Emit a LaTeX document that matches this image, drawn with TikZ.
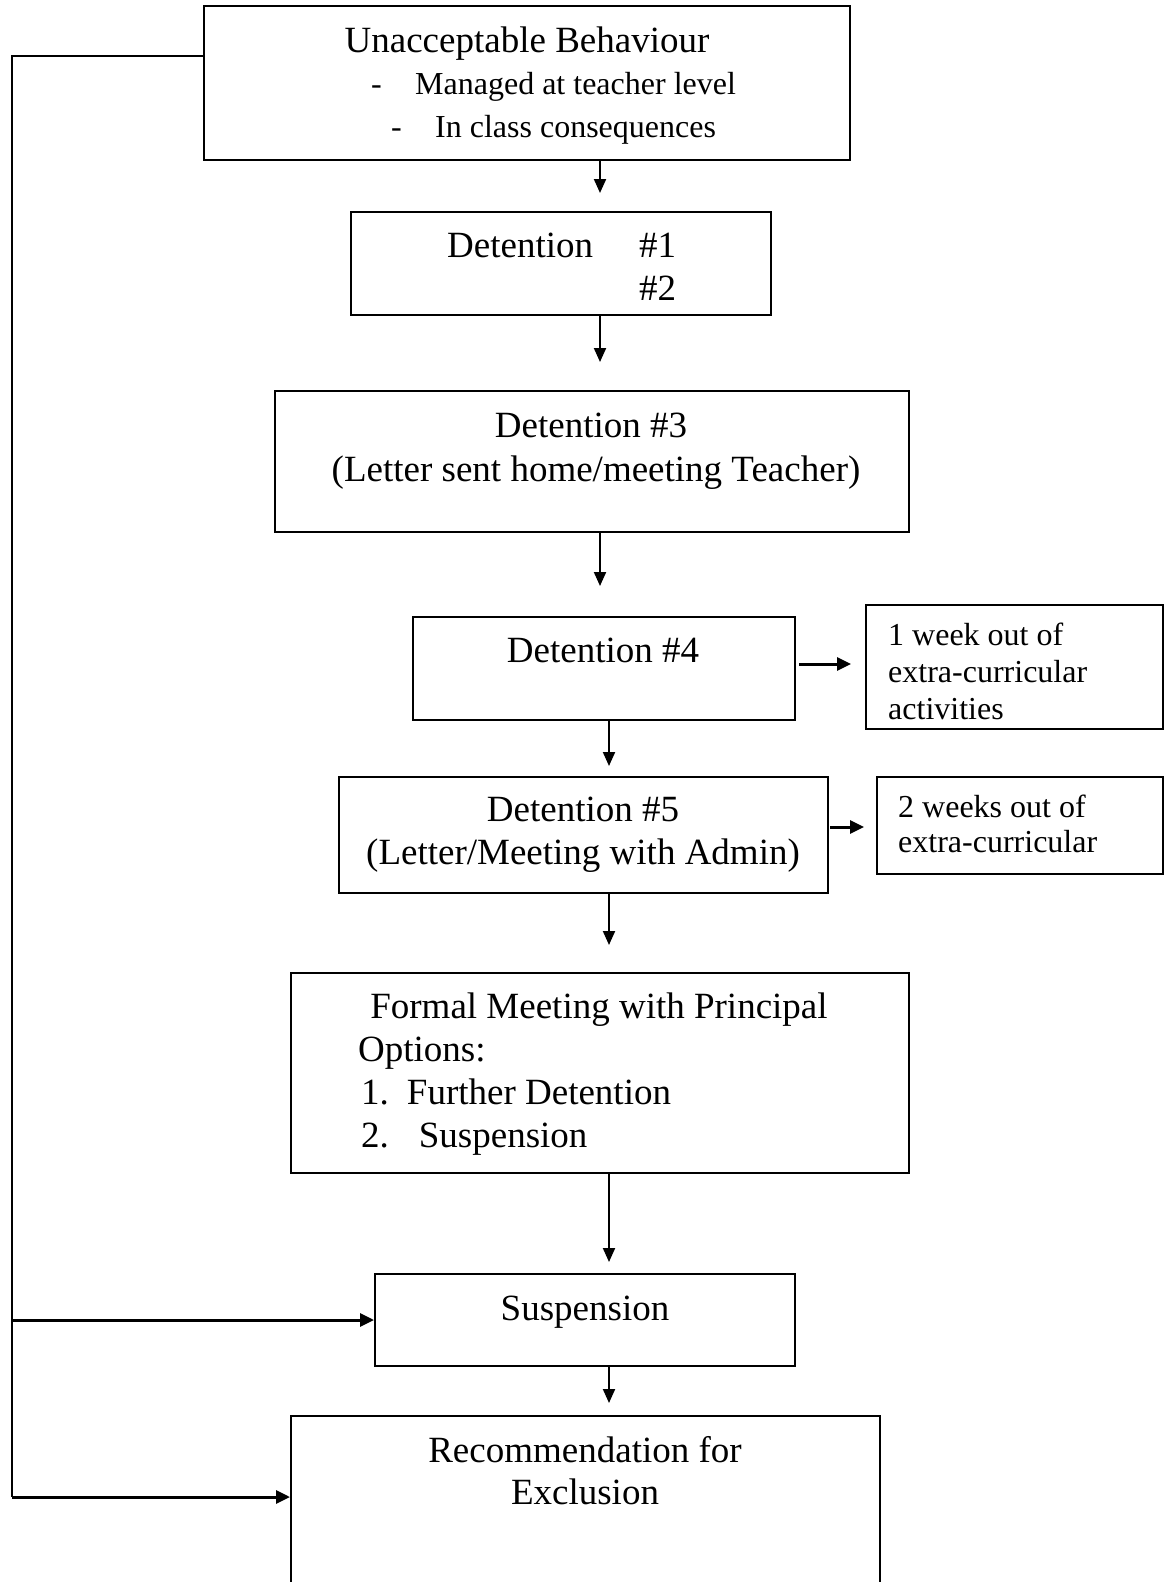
\documentclass[tikz,border=0pt]{standalone}
\usepackage{fontspec}
\setmainfont{Liberation Serif}
\usetikzlibrary{arrows.meta}
\newcommand{\bigtxt}{\fontsize{37}{43}\selectfont}
\newcommand{\smalltxt}{\fontsize{32}{37}\selectfont}
\tikzset{
  box/.style={draw, line width=2pt, inner sep=0pt},
  txt/.style={inner sep=0pt, font=\bigtxt},
  smtxt/.style={inner sep=0pt, font=\smalltxt},
  arr/.style={line width=2pt, -{Triangle[length=14pt,width=12pt]}},
  harr/.style={line width=3pt, -{Triangle[length=14pt,width=13pt]}},
}
\begin{document}
\begin{tikzpicture}[x=1pt,y=-1pt]
  \useasboundingbox (0,0) rectangle (1172,1582);
  \clip (0,0) rectangle (1172,1582);
  % boxes
  \node[box, minimum width=646pt, minimum height=154pt] (unacc) at (527,83) {};
  \node[box, minimum width=420pt, minimum height=103pt] (det12) at (561,263.5) {};
  \node[box, minimum width=634pt, minimum height=141pt] (det3) at (592,461.5) {};
  \node[box, minimum width=382pt, minimum height=103pt] (det4) at (604,668.5) {};
  \node[box, minimum width=297pt, minimum height=124pt] (week1) at (1014.5,667) {};
  \node[box, minimum width=489pt, minimum height=116pt] (det5) at (583.5,835) {};
  \node[box, minimum width=286pt, minimum height=97pt] (week2) at (1020,825.5) {};
  \node[box, minimum width=618pt, minimum height=200pt] (formal) at (600,1073) {};
  \node[box, minimum width=420pt, minimum height=92pt] (susp) at (585,1320) {};
  \node[box, minimum width=589pt, minimum height=284pt] (excl) at (585.5,1558) {};
  % texts
  \node[txt, anchor=base] at (527,52) {Unacceptable Behaviour};
  \node[smtxt, anchor=base west] at (371,94) {-};
  \node[smtxt, anchor=base west] at (415,94) {Managed at teacher level};
  \node[smtxt, anchor=base west] at (391,137) {-};
  \node[smtxt, anchor=base west] at (435,137) {In class consequences};
  \node[txt, anchor=base west] at (447,257) {Detention};
  \node[txt, anchor=base west] at (639,257) {\#1};
  \node[txt, anchor=base west] at (639,300) {\#2};
  \node[txt, anchor=base] at (591,437) {Detention \#3};
  \node[txt, anchor=base] at (596,481) {(Letter sent home/meeting Teacher)};
  \node[txt, anchor=base] at (603,662) {Detention \#4};
  \node[smtxt, anchor=base west] at (888,645) {1 week out of};
  \node[smtxt, anchor=base west] at (888,682) {extra-curricular};
  \node[smtxt, anchor=base west] at (888,719) {activities};
  \node[txt, anchor=base] at (583,821) {Detention \#5};
  \node[txt, anchor=base] at (583,864) {(Letter/Meeting with Admin)};
  \node[smtxt, anchor=base west] at (898,817) {2 weeks out of};
  \node[smtxt, anchor=base west] at (898,852) {extra-curricular};
  \node[txt, anchor=base] at (599,1018) {Formal Meeting with Principal};
  \node[txt, anchor=base west] at (358,1061) {Options:};
  \node[txt, anchor=base west] at (361,1104) {1.\hspace{18pt}Further Detention};
  \node[txt, anchor=base west] at (361,1147) {2.\hspace{30pt}Suspension};
  \node[txt, anchor=base] at (585,1320) {Suspension};
  \node[txt, anchor=base] at (585,1462) {Recommendation for};
  \node[txt, anchor=base] at (585,1504) {Exclusion};
  % arrows down
  \coordinate (colA) at (600,0);
  \coordinate (colB) at (609,0);
  \draw[arr, shorten >=18pt] (unacc.south -| colA) -- (det12.north -| colA);
  \draw[arr, shorten >=28pt] (det12.south -| colA) -- (det3.north -| colA);
  \draw[arr, shorten >=30pt] (det3.south -| colA) -- (det4.north -| colA);
  \draw[arr, shorten >=10pt] (det4.south -| colB) -- (det5.north -| colB);
  \draw[arr, shorten >=27pt] (det5.south -| colB) -- (formal.north -| colB);
  \draw[arr, shorten >=11pt] (formal.south -| colB) -- (susp.north -| colB);
  \draw[arr, shorten >=12pt] (susp.south -| colB) -- (excl.north -| colB);
  % arrows right
  \draw[harr, shorten <=3pt, shorten >=14pt] ([yshift=4.5pt]det4.east) -- ([yshift=4.5pt]det4.east -| week1.west);
  \draw[harr, shorten <=1pt, shorten >=12pt] ([yshift=8pt]det5.east) -- ([yshift=8pt]det5.east -| week2.west);
  % left rail
  \coordinate (railtop) at (12,56);
  \coordinate (railend) at (12,1497);
  \draw[line width=2pt] (unacc.west |- railtop) -- (railtop) -- (railend);
  \draw[harr] (railtop |- susp.west) -- (susp.west);
  \draw[harr] (railend) -- (railend -| excl.west);
\end{tikzpicture}
\end{document}
